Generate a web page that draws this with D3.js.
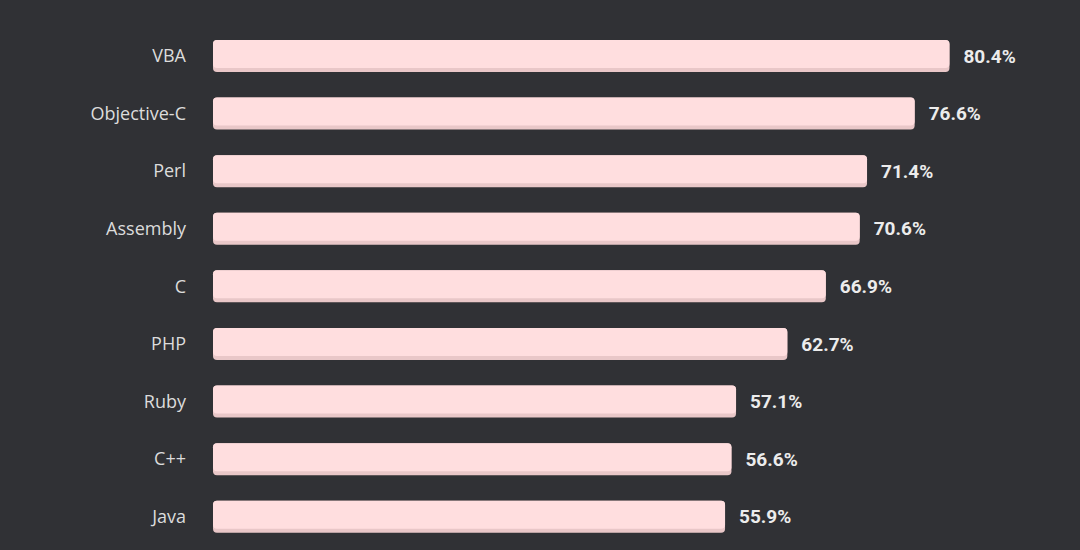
<!DOCTYPE html>
<html><head><meta charset="utf-8">
<script src="https://cdn.jsdelivr.net/npm/d3@7/dist/d3.min.js"></script>
<style>html,body{margin:0;padding:0;background:#303135;}svg{display:block;}</style>
</head><body>
<svg id="chart" width="1080" height="550"></svg>
<script>
const categories = ["VBA","Objective-C","Perl","Assembly","C","PHP","Ruby","C++","Java"];
const values = [80.4,76.6,71.4,70.6,66.9,62.7,57.1,56.6,55.9];

const svg = d3.select("#chart");
svg.append("rect").attr("width",1080).attr("height",550).attr("fill","#303135");

const x = d3.scaleLinear().domain([0,100]).range([213, 213+916]);
const y = d3.scaleBand().domain(categories).range([27.3, 545.4]).paddingInner(0.445).paddingOuter(0.22);

const g = svg.append("g");
const bars = g.selectAll("g.bar").data(categories).join("g").attr("class","bar");

bars.append("rect")
  .attr("x", x(0)).attr("y", d=>y(d))
  .attr("width", (d,i)=>x(values[i])-x(0)).attr("height", y.bandwidth())
  .attr("rx",4).attr("fill","#e9c7c8");
bars.append("rect")
  .attr("x", x(0)).attr("y", d=>y(d))
  .attr("width", (d,i)=>x(values[i])-x(0)).attr("height", y.bandwidth()-4)
  .attr("rx",4).attr("fill","#ffdedf");

bars.append("text")
  .attr("x", 186).attr("y", d=>y(d)+y.bandwidth()/2)
  .attr("dy","0.35em").attr("text-anchor","end")
  .attr("font-family","'Open Sans', 'Noto Sans', sans-serif").attr("font-size",18)
  .attr("fill","#dcdcdc").text(d=>d);

bars.append("text")
  .attr("x", (d,i)=>x(values[i])+14).attr("y", d=>y(d)+y.bandwidth()/2)
  .attr("dy","0.35em")
  .attr("font-family","Roboto, sans-serif").attr("font-weight","bold").attr("font-size",19)
  .attr("fill","#ececec").text((d,i)=>values[i].toFixed(1)+"%");
</script>
</body></html>
